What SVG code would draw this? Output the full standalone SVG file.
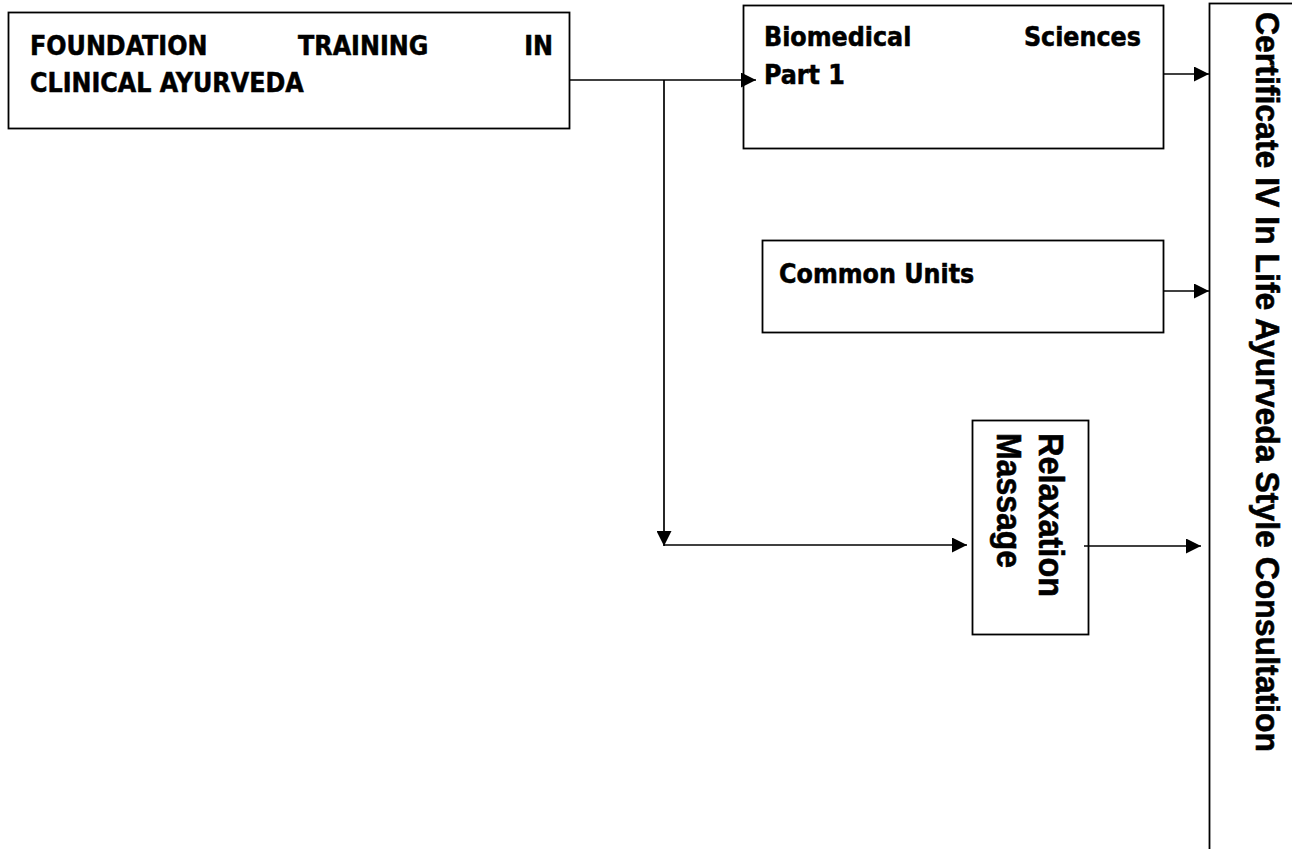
<svg xmlns="http://www.w3.org/2000/svg" width="1292" height="849" viewBox="0 0 1292 849">
<style>
.box{fill:#fff;stroke:#000;stroke-width:1.8}
.t{font-family:"DejaVu Sans","Liberation Sans",sans-serif;font-weight:bold;font-size:26.5px;font-stretch:condensed;fill:#000;stroke:#000;stroke-width:0.5}
.r{font-family:"Liberation Sans",Arial,sans-serif;font-weight:bold;fill:#000;stroke:#000;stroke-width:0.6}
.ln{fill:none;stroke:#000;stroke-width:1.7}
</style>
<defs>
<marker id="ah" viewBox="0 0 10 10" refX="10" refY="5" markerWidth="15" markerHeight="15" markerUnits="userSpaceOnUse" orient="auto">
<path d="M0,0 L10,5 L0,10 z" fill="#000"/>
</marker>
</defs>
<g id="foundation">
<rect class="box" x="8.5" y="12.5" width="561" height="116"/>
<text class="t" x="30" y="55">FOUNDATION</text>
<text class="t" x="298" y="55">TRAINING</text>
<text class="t" x="553" y="55" text-anchor="end">IN</text>
<text class="t" x="30" y="92">CLINICAL AYURVEDA</text>
</g>
<g id="biomedical">
<rect class="box" x="743.5" y="5.5" width="420" height="143"/>
<text class="t" x="764" y="46">Biomedical</text>
<text class="t" x="1141" y="46" text-anchor="end">Sciences</text>
<text class="t" x="764" y="84">Part 1</text>
</g>
<g id="common">
<rect class="box" x="762.5" y="240.5" width="401" height="92"/>
<text class="t" x="779" y="283">Common Units</text>
</g>
<g id="relaxation">
<rect class="box" x="972.5" y="420.5" width="116" height="214"/>
<text class="r" font-size="35" transform="translate(1039,433) rotate(90)" textLength="164" lengthAdjust="spacingAndGlyphs">Relaxation</text>
<text class="r" font-size="35" transform="translate(997,433) rotate(90)" textLength="135" lengthAdjust="spacingAndGlyphs">Massage</text>
</g>
<g id="certificate">
<rect class="box" x="1209.5" y="3.5" width="100" height="860"/>
<text class="r" font-size="33" transform="translate(1256,12) rotate(90)" textLength="740" lengthAdjust="spacingAndGlyphs">Certificate IV In Life Ayurveda Style Consultation</text>
</g>
<g id="connectors">
<line class="ln" x1="570" y1="80" x2="756" y2="80" marker-end="url(#ah)"/>
<line class="ln" x1="664" y1="80" x2="664" y2="546" marker-end="url(#ah)"/>
<line class="ln" x1="664" y1="545" x2="967" y2="545" marker-end="url(#ah)"/>
<line class="ln" x1="1164" y1="74" x2="1209" y2="74" marker-end="url(#ah)"/>
<line class="ln" x1="1164" y1="291" x2="1209" y2="291" marker-end="url(#ah)"/>
<line class="ln" x1="1084" y1="546" x2="1201" y2="546" marker-end="url(#ah)"/>
</g>
</svg>
